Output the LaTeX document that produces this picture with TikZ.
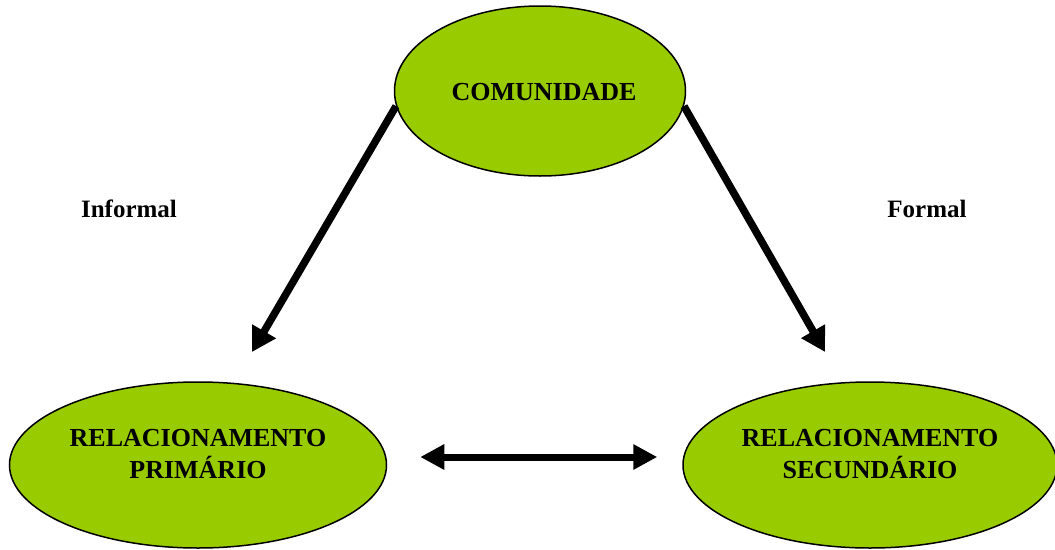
\documentclass[tikz,border=0pt]{standalone}
\usepackage{fontspec}
\setmainfont{Liberation Serif}
\usetikzlibrary{shapes.geometric,arrows.meta}
\definecolor{leaf}{HTML}{99CC00}
\begin{document}
\begin{tikzpicture}[x=1pt,y=-1pt,
  bubble/.style={ellipse,draw=black,line width=1.5pt,fill=leaf,inner sep=0pt},
  lbl/.style={font=\fontsize{26}{32}\selectfont\bfseries,align=center,inner sep=0pt},
  side/.style={font=\fontsize{25}{30}\selectfont\bfseries,inner sep=0pt},
  bigarrow/.style={line width=7.5pt,-{Triangle[length=24pt,width=26pt]}},
  twoway/.style={line width=7pt,{Triangle[length=24pt,width=24pt]}-{Triangle[length=24pt,width=24pt]}}
]
\useasboundingbox (0,0) rectangle (1055,549);
\node[bubble,minimum width=291pt,minimum height=170pt] (com) at (540,91) {};
\node[lbl] (comtxt) at (544,92) {COMUNIDADE};
\node[bubble,minimum width=377pt,minimum height=166pt] (prim) at (198,465) {};
\node[lbl] (primtxt) at (198,454) {RELACIONAMENTO\\PRIMÁRIO};
\node[bubble,minimum width=374pt,minimum height=166pt] (sec) at (870,465) {};
\node[lbl] (sectxt) at (870,454) {RELACIONAMENTO\\SECUNDÁRIO};
\node[side] (inf) at (129,209) {Informal};
\node[side] (for) at (927,209) {Formal};
\coordinate (tipL) at (252,352);
\coordinate (tipR) at (825,352);
\draw[bigarrow] (com.186) -- (tipL);
\draw[bigarrow] (com.354) -- (tipR);
\draw[twoway,shorten <=33pt,shorten >=25pt] ([yshift=8pt]prim.east) -- ([yshift=8pt]sec.west);
\end{tikzpicture}
\end{document}
